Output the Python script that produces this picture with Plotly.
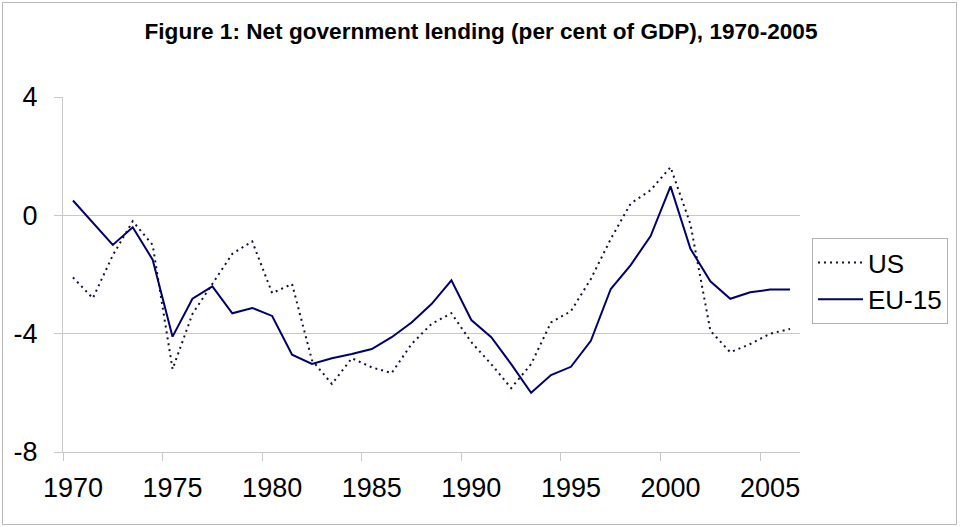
import plotly.graph_objects as go

years = list(range(1970, 2007))

us = [-2.1, -2.8, -1.35, -0.2, -1.0, -5.2, -3.33, -2.32, -1.3, -0.88,
      -2.63, -2.32, -4.9, -5.7, -4.83, -5.14, -5.33, -4.35, -3.67, -3.31,
      -4.29, -5.03, -5.84, -5.03, -3.62, -3.24, -2.15, -0.8, 0.4, 0.85,
      1.63, -0.3, -3.9, -4.63, -4.35, -4.0, -3.84]

eu15 = [0.5, -0.25, -1.0, -0.4, -1.5, -4.1, -2.82, -2.4, -3.31, -3.13,
        -3.4, -4.71, -5.02, -4.83, -4.69, -4.52, -4.12, -3.62, -3.0, -2.2,
        -3.54, -4.12, -5.03, -6.0, -5.4, -5.12, -4.24, -2.49, -1.68, -0.7,
        0.98, -1.13, -2.23, -2.82, -2.6, -2.51, -2.51]

x_tick_labels = [1970, 1975, 1980, 1985, 1990, 1995, 2000, 2005]
y_ticks = [-8, -4, 0, 4]
y_tick_text = ["-8", "-4", "0", "4"]

FONT = "Liberation Sans, Arial, sans-serif"
GRID = "#c8c8c8"

fig = go.Figure()
fig.add_trace(go.Scatter(
    x=years, y=us, name="US", mode="lines",
    line=dict(color="#101040", width=2, dash="2px,4px"),
))
fig.add_trace(go.Scatter(
    x=years, y=eu15, name="EU-15", mode="lines",
    line=dict(color="#000070", width=2),
))

fig.update_layout(
    width=960, height=527,
    margin=dict(l=63, r=160, t=97, b=75, autoexpand=False),
    paper_bgcolor="white", plot_bgcolor="white",
    font=dict(family=FONT, color="black", size=27),
    title=dict(
        text="<b>Figure 1: Net government lending (per cent of GDP), 1970-2005</b>",
        x=481 / 960, xref="container", xanchor="center",
        y=1 - 31 / 527, yref="container", yanchor="middle",
        font=dict(family=FONT, size=22.6, color="black"),
    ),
    showlegend=True,
    legend=dict(
        x=812 / 960, xref="container", xanchor="left",
        y=1 - 238 / 527, yref="container", yanchor="top",
        bordercolor="#b0b0b0", borderwidth=1,
        font=dict(family=FONT, size=26, color="black"),
        bgcolor="white",
        itemwidth=45,
    ),
    xaxis=dict(
        range=[1969.5, 2006.5],
        tickmode="array", tickvals=x_tick_labels,
        ticktext=[str(v) for v in x_tick_labels],
        ticks="", showgrid=False, zeroline=False,
        showline=True, linecolor=GRID, linewidth=1,
        ticklabelstandoff=12,
        tickfont=dict(family=FONT, size=27, color="black"),
        minor=dict(tickmode="linear", tick0=1969.5, dtick=5,
                   ticks="outside", ticklen=8, tickcolor=GRID,
                   tickwidth=1, showgrid=False),
    ),
    yaxis=dict(
        range=[-8, 4],
        tickmode="array", tickvals=y_ticks, ticktext=y_tick_text,
        ticks="outside", ticklen=8, tickcolor=GRID, tickwidth=1,
        showgrid=True, gridcolor=GRID, gridwidth=1,
        zeroline=False,
        showline=True, linecolor=GRID, linewidth=1,
        ticklabelstandoff=11,
        tickfont=dict(family=FONT, size=27, color="black"),
    ),
)

# outer chart border
fig.add_shape(
    type="rect", xref="paper", yref="paper",
    x0=(2.5 - 63) / 737, x1=(956.5 - 63) / 737,
    y0=(452 - 524.5) / 355, y1=(452 - 2.5) / 355,
    line=dict(color="#b8b8b8", width=1), fillcolor="rgba(0,0,0,0)",
    layer="below",
)

fig.write_html("out.html", config={"displayModeBar": False},
               post_script="document.body.style.margin='0';")
